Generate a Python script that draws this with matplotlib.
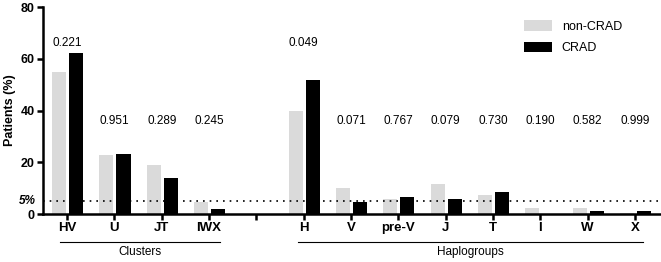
#!/usr/bin/env python3
"""Bar chart of patient percentages per mtDNA cluster / haplogroup."""
import matplotlib
matplotlib.use("Agg")
import matplotlib.pyplot as plt
import matplotlib.transforms as mtransforms
import numpy as np

plt.rcParams["font.family"] = ["Liberation Sans", "DejaVu Sans"]

# Data ("" is the empty gap slot).
categories = ["HV", "U", "JT", "IWX", "", "H", "V", "pre-V", "J", "T", "I", "W", "X"]
non_crad = [54.8, 23.0, 18.9, 4.8, 0, 39.9, 9.9, 5.7, 11.8, 7.3, 2.2, 2.2, 0.5]
crad = [62.1, 23.3, 13.8, 1.8, 0, 51.8, 4.8, 6.4, 5.7, 8.6, 0.0, 1.0, 1.0]
p_values = ["0.221", "0.951", "0.289", "0.245", "", "0.049", "0.071", "0.767",
            "0.079", "0.730", "0.190", "0.582", "0.999"]
p_heights = [66, 36, 36, 36, None, 66, 36, 36, 36, 36, 36, 36, 36]
groups = [("Clusters", -0.15, 3.24), ("Haplogroups", 4.87, 12.17)]


def plot_chart():
    fig = plt.figure(figsize=(6.61, 2.62), dpi=100)
    ax = fig.add_axes([0.065, 0.183, 0.935, 0.790])
    x = np.arange(len(categories))
    width = 0.3
    ax.bar(x - 0.17, non_crad, width, color="#dadada", label="non-CRAD")
    ax.bar(x + 0.19, crad, width, color="black", label="CRAD")

    for xi, txt, h in zip(x, p_values, p_heights):
        if txt:
            ax.text(xi, h, txt, ha="center", va="center", fontsize=8.5)

    ax.axhline(5, color="black", linestyle=(0, (1, 3)), linewidth=1.2)

    ax.set_xlim(-0.51, 12.55)
    ax.set_ylim(0, 80)
    ax.set_yticks([0, 20, 40, 60, 80])
    ax.set_xticks(x)
    ax.set_xticklabels(categories, fontweight="bold", fontsize=9.5)
    for lab in ax.get_yticklabels():
        lab.set_fontweight("bold")
        lab.set_fontsize(9)
    ax.tick_params(axis="both", width=1.8, length=4, pad=2)
    ax.text(-0.011, 5, "5%", transform=mtransforms.blended_transform_factory(
        ax.transAxes, ax.transData), ha="right", va="center",
        fontsize=8.5, fontstyle="italic", fontweight="bold")
    ax.set_ylabel("Patients (%)", fontweight="bold", fontsize=9, labelpad=3)

    for side in ("top", "right"):
        ax.spines[side].set_visible(False)
    for side in ("left", "bottom"):
        ax.spines[side].set_linewidth(1.8)

    # group brackets below the tick labels
    trans = mtransforms.blended_transform_factory(ax.transData, ax.transAxes)
    for name, x0, x1 in groups:
        ax.plot([x0, x1], [-0.135, -0.135], color="black", linewidth=0.8,
                transform=trans, clip_on=False)
        ax.text((x0 + x1) / 2, -0.185, name, transform=trans, ha="center",
                va="center", fontsize=8.5)

    ax.legend(loc="upper right", bbox_to_anchor=(0.955, 0.99), frameon=False,
              fontsize=9, handlelength=2.2, handleheight=0.9, labelspacing=0.7)
    fig.savefig("out.png", dpi=100)


if __name__ == "__main__":
    plot_chart()
